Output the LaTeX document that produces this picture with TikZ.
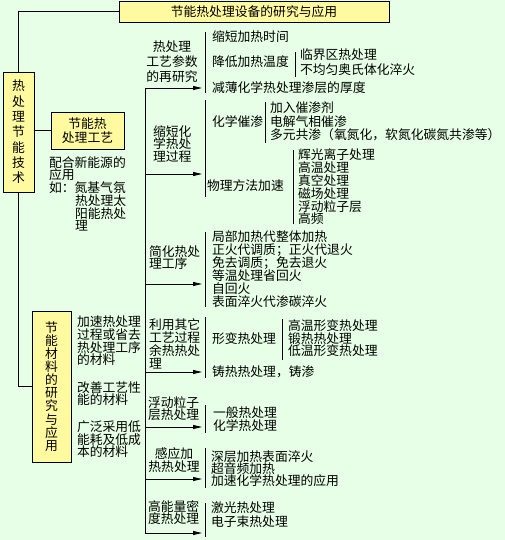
\documentclass[tikz,border=0pt]{standalone}
\usepackage{fontspec}
\setmainfont{Noto Sans CJK SC}
\usetikzlibrary{arrows.meta}
\definecolor{bg}{RGB}{230,255,230}
\definecolor{boxfill}{RGB}{255,250,160}
\lineskiplimit=-20pt
\begin{document}
\begin{tikzpicture}[x=1pt,y=-1pt,
  every node/.style={inner sep=0pt, outer sep=0pt},
  txt/.style={font=\fontsize{12.8}{#1}\selectfont, align=left, anchor=west},
  txt/.default=13,
  ctxt/.style={font=\fontsize{12.8}{#1}\selectfont, align=center},
  box/.style={draw, fill=boxfill, line width=0.9pt},
  ln/.style={line width=0.9pt},
  arr/.style={line width=0.9pt, -{Triangle[length=9pt,width=4pt]}},
  brk/.style={line width=0.9pt}]
\fill[bg] (0,0) rectangle (505,540);
\useasboundingbox (0,0) rectangle (505,540);

% boxes
\node[box, minimum width=270pt, minimum height=21pt, font=\fontsize{12.8}{13}\selectfont] (top) at (254,11.5) {节能热处理设备的研究与应用};
\node[box, minimum width=31pt, minimum height=120pt, ctxt=15.3] (main) at (18.5,132) {热\\处\\理\\节\\能\\技\\术};
\node[box, minimum width=73pt, minimum height=37pt, ctxt=14] (proc) at (87.5,130.5) {节能热\\处理工艺};
\node[box, minimum width=39pt, minimum height=151pt, ctxt=13.1] (mat) at (51.5,386.5) {节\\能\\材\\料\\的\\研\\究\\与\\应\\用};

\draw[ln] (top.west) -| (main.north);
\draw[ln] (main.east |- proc.west) -- (proc.west);
\draw[ln] (main.south) |- (mat.west);

% left texts
\node[txt=12.8] (newe) at (49,175) {配合新能源的\\应用\\如：氮基气氛};
\node[txt=12.8] (newf) at (75,213) {热处理太\\阳能热处\\理};
\node[txt=12.7] (m1) at (77,341) {加速热处理\\过程或省去\\热处理工序\\的材料};
\node[txt=12] (m2) at (77,393.5) {改善工艺性\\能的材料};
\node[txt=12.5] (m3) at (77,439.5) {广泛采用低\\能耗及低成\\本的材料};

% main vertical and arrows
\coordinate (vt) at (145,88);
\coordinate (vb) at (145,533);
\draw[ln] (vt) -- (vb);
\coordinate (a1) at (202,88);
\coordinate (a2) at (202,174);
\coordinate (a3) at (202,284);
\coordinate (a4) at (202,372);
\coordinate (a5) at (202,427);
\coordinate (a6) at (202,479);
\coordinate (a7) at (202,533);
\foreach \i in {1,...,7} \draw[arr] (a\i -| vt) -- (a\i);

% group labels
\node[ctxt=15] (g1) at (172,61.5) {热处理\\工艺参数\\的再研究};
\node[txt=12.5] (g2) at (153,144) {缩短化\\学热处\\理过程};
\node[txt=12] (g3) at (149,258) {简化热处\\理工序};
\node[txt=13] (g4) at (149,343.5) {利用其它\\工艺过程\\余热热处\\理};
\node[txt=12] (g5) at (148,409) {浮动粒子\\层热处理};
\node[ctxt=13] (g6) at (174,460.5) {感应加\\热热处理};
\node[txt=11.5] (g7) at (148,512.5) {高能量密\\度热处理};

% group 1
\draw[brk] (205,32) -- (205,93);
\node[txt] (i11) at (212,37) {缩短加热时间};
\node[txt] (i12) at (212,62) {降低加热温度};
\draw[brk] (295,52) -- (295,77);
\node[txt=15] (i121) at (300,62.5) {临界区热处理\\不均匀奥氏体化淬火};
\node[txt] (i13) at (212,88) {减薄化学热处理渗层的厚度};

% group 2
\draw[brk] (205,100) -- (205,197);
\node[txt] (i21) at (212,122) {化学催渗};
\draw[brk] (265,102) -- (265,143);
\node[txt=13.5] (i211) at (270,121.5) {加入催渗剂\\电解气相催渗\\多元共渗（氧氮化，软氮化碳氮共渗等）};
\node[txt] (i22) at (207,186) {物理方法加速};
\draw[brk] (293,150) -- (293,224);
\node[txt=12.8] (i221) at (298,187) {辉光离子处理\\高温处理\\真空处理\\磁场处理\\浮动粒子层\\高频};

% group 3
\draw[brk] (205,232) -- (205,307);
\node[txt=13] (i31) at (212,269.5) {局部加热代整体加热\\正火代调质；正火代退火\\免去调质；免去退火\\等温处理省回火\\自回火\\表面淬火代渗碳淬火};

% group 4
\draw[brk] (205,317) -- (205,378);
\node[txt] (i41) at (212,339) {形变热处理};
\draw[brk] (282,319) -- (282,360);
\node[txt=12.5] (i411) at (288,338.5) {高温形变热处理\\锻热热处理\\低温形变热处理};
\node[txt] (i42) at (212,372) {铸热热处理，铸渗};

% group 5
\draw[brk] (205,405) -- (205,433);
\node[txt] (i51) at (213,419.5) {一般热处理\\化学热处理};

% group 6
\draw[brk] (205,448) -- (205,488);
\node[txt=12] (i61) at (211,469) {深层加热表面淬火\\超音频加热\\加速化学热处理的应用};

% group 7
\draw[brk] (205,503) -- (205,537);
\node[txt=14] (i71) at (211,515) {激光热处理\\电子束热处理};
\end{tikzpicture}
\end{document}
